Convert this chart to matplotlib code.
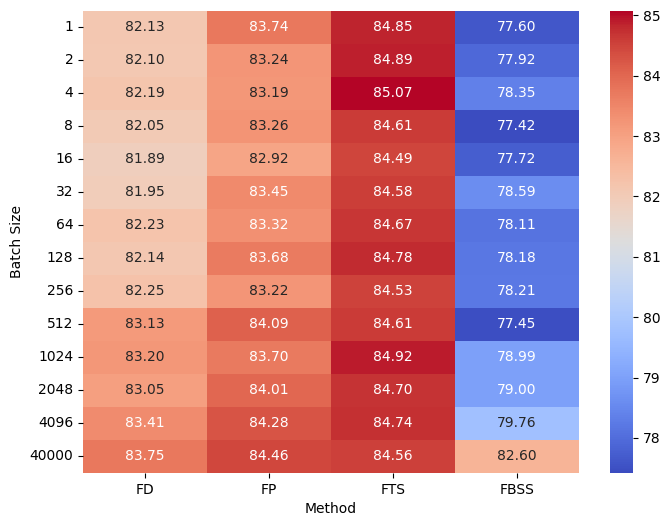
import numpy as np
import pandas as pd
import seaborn as sns
import matplotlib
matplotlib.use("Agg")
import matplotlib.pyplot as plt

batch_sizes = [1, 2, 4, 8, 16, 32, 64, 128, 256, 512, 1024, 2048, 4096, 40000]
methods = ["FD", "FP", "FTS", "FBSS"]

fd = [82.13, 82.10, 82.19, 82.05, 81.89, 81.95, 82.23, 82.14, 82.25, 83.13, 83.20, 83.05, 83.41, 83.75]
fp = [83.74, 83.24, 83.19, 83.26, 82.92, 83.45, 83.32, 83.68, 83.22, 84.09, 83.70, 84.01, 84.28, 84.46]
fts = [84.85, 84.89, 85.07, 84.61, 84.49, 84.58, 84.67, 84.78, 84.53, 84.61, 84.92, 84.70, 84.74, 84.56]
fbss = [77.60, 77.92, 78.35, 77.42, 77.72, 78.59, 78.11, 78.18, 78.21, 77.45, 78.99, 79.00, 79.76, 82.60]

df = pd.DataFrame({"FD": fd, "FP": fp, "FTS": fts, "FBSS": fbss}, index=batch_sizes)
df.index.name = "Batch Size"
df.columns.name = "Method"

fig = plt.figure(figsize=(6.7, 5.26), dpi=100)
# heatmap and colorbar placed to match the reference
ax = fig.add_axes([0.1239, 0.1008, 0.7403, 0.8783])
cax = fig.add_axes([0.9104, 0.1008, 0.0343, 0.8783])

sns.heatmap(df, annot=True, fmt=".2f", cmap="coolwarm", ax=ax, cbar_ax=cax)
ax.set_xlabel("Method")
ax.set_ylabel("Batch Size")
ax.tick_params(axis="y", rotation=0)

fig.savefig("out.png", dpi=100)
